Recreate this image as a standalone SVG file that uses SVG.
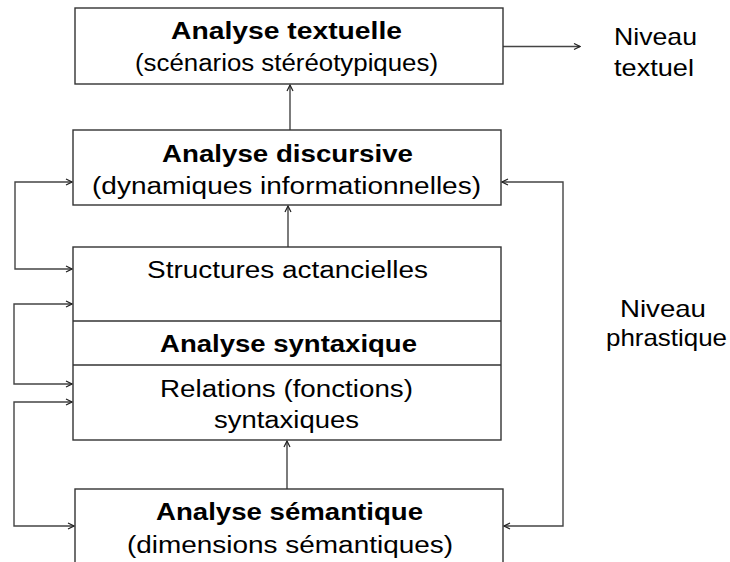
<svg xmlns="http://www.w3.org/2000/svg" width="730" height="562" viewBox="0 0 730 562">
<style>
.box{fill:#fff;stroke:#333;stroke-width:1.4}
.div{stroke:#333;stroke-width:1.4}
.con{fill:none;stroke:#444;stroke-width:1.4}
.b{font-family:"Liberation Sans",Arial,sans-serif;font-weight:bold;font-size:23px;fill:#000}
.r{font-family:"Liberation Sans",Arial,sans-serif;font-size:23px;fill:#000}
.n{font-family:"Liberation Sans",Arial,sans-serif;font-size:24px;fill:#000}
</style>
<defs>
<marker id="ah" viewBox="0 0 8 8" refX="7" refY="4" markerWidth="8" markerHeight="8" markerUnits="userSpaceOnUse" orient="auto-start-reverse">
<path d="M1,1 L7,4 L1,7" fill="none" stroke="#222" stroke-width="1.2"/>
</marker>
</defs>
<rect width="730" height="562" fill="#fff"/>
<g id="connectors">
<line class="con" x1="503" y1="46.5" x2="580" y2="46.5" marker-end="url(#ah)"/>
<line class="con" x1="290" y1="130" x2="290" y2="85" marker-end="url(#ah)"/>
<line class="con" x1="288" y1="247" x2="288" y2="206" marker-end="url(#ah)"/>
<line class="con" x1="287" y1="489" x2="287" y2="441" marker-end="url(#ah)"/>
<path class="con" d="M72,182 H15 V269 H72" marker-start="url(#ah)" marker-end="url(#ah)"/>
<path class="con" d="M72,304 H14 V384 H72" marker-start="url(#ah)" marker-end="url(#ah)"/>
<path class="con" d="M72,402 H14 V526 H74" marker-start="url(#ah)" marker-end="url(#ah)"/>
<path class="con" d="M502,182 H563 V526 H504" marker-start="url(#ah)" marker-end="url(#ah)"/>
</g>
<g id="textuelle">
<rect class="box" x="75" y="8" width="428" height="76"/>
<text class="b" x="171" y="39" textLength="231" lengthAdjust="spacingAndGlyphs">Analyse textuelle</text>
<text class="r" x="135" y="71" textLength="303" lengthAdjust="spacingAndGlyphs">(scénarios stéréotypiques)</text>
</g>
<g id="discursive">
<rect class="box" x="73" y="130" width="428" height="75"/>
<text class="b" x="162" y="162" textLength="251" lengthAdjust="spacingAndGlyphs">Analyse discursive</text>
<text class="r" x="92" y="194" textLength="389" lengthAdjust="spacingAndGlyphs">(dynamiques informationnelles)</text>
</g>
<g id="syntaxique">
<rect class="box" x="73" y="247" width="428" height="193"/>
<line class="div" x1="73" y1="321" x2="501" y2="321"/>
<line class="div" x1="73" y1="365" x2="501" y2="365"/>
<text class="r" x="147" y="278" textLength="281" lengthAdjust="spacingAndGlyphs">Structures actancielles</text>
<text class="b" x="160" y="352" textLength="257" lengthAdjust="spacingAndGlyphs">Analyse syntaxique</text>
<text class="r" x="160" y="397" textLength="253" lengthAdjust="spacingAndGlyphs">Relations (fonctions)</text>
<text class="r" x="214" y="428" textLength="145" lengthAdjust="spacingAndGlyphs">syntaxiques</text>
</g>
<g id="semantique">
<rect class="box" x="75" y="489" width="428" height="90"/>
<text class="b" x="156" y="520" textLength="267" lengthAdjust="spacingAndGlyphs">Analyse sémantique</text>
<text class="r" x="127" y="553" textLength="326" lengthAdjust="spacingAndGlyphs">(dimensions sémantiques)</text>
</g>
<g id="niveau-textuel">
<text class="n" x="614" y="45" textLength="83" lengthAdjust="spacingAndGlyphs">Niveau</text>
<text class="n" x="614" y="76" textLength="80" lengthAdjust="spacingAndGlyphs">textuel</text>
</g>
<g id="niveau-phrastique">
<text class="n" x="620" y="317" textLength="86" lengthAdjust="spacingAndGlyphs">Niveau</text>
<text class="n" x="606" y="346" textLength="121" lengthAdjust="spacingAndGlyphs">phrastique</text>
</g>
</svg>
